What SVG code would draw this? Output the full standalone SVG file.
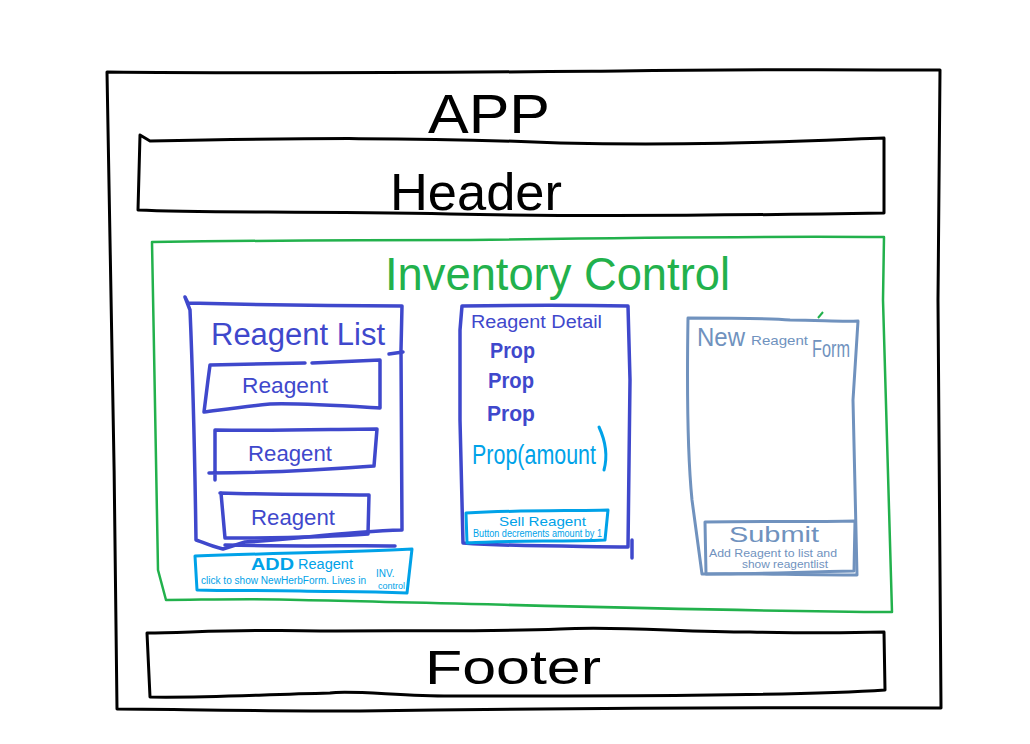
<svg xmlns="http://www.w3.org/2000/svg" width="1030" height="744" viewBox="0 0 1030 744">
<style>
.k{fill:none;stroke:#000;stroke-width:3;stroke-linejoin:round;stroke-linecap:round}
.g{fill:none;stroke:#22b14c;stroke-width:2.5;stroke-linejoin:round;stroke-linecap:round}
.b{fill:none;stroke:#3f48cc;stroke-width:3.5;stroke-linejoin:round;stroke-linecap:round}
.lb{fill:none;stroke:#00a2e8;stroke-width:3;stroke-linejoin:round;stroke-linecap:round}
.sb{fill:none;stroke:#7092be;stroke-width:3;stroke-linejoin:round;stroke-linecap:round}
text{font-family:"Liberation Sans","DejaVu Sans",sans-serif}
.tk{fill:#000}
.tg{fill:#22b14c}
.tb{fill:#3f48cc}
.tlb{fill:#00a2e8}
.tsb{fill:#7092be}
</style>
<rect width="1030" height="744" fill="#fff"/>
<g id="app">
<path class="k" d="M107,72 C300,74 500,72 620,71 C760,69 860,70 940,70 L938,300 L941,708 C700,707 500,709 360,711 C250,711 160,709 117,709 C115,500 111,250 107,72 Z"/>
<text class="tk" x="428" y="133" font-size="56" textLength="122" lengthAdjust="spacingAndGlyphs">APP</text>
</g>
<g id="header">
<path class="k" d="M140,135 L150,141 C300,138 420,137 560,143 C700,146 800,141 884,138 L884,213 C700,216 550,216 450,214 C300,211 200,213 138,210 Z"/>
<text class="tk" x="390" y="210" font-size="52" textLength="172" lengthAdjust="spacingAndGlyphs">Header</text>
</g>
<g id="inventory-control">
<path class="g" d="M152,242 C300,240 420,240 470,240 C600,238 750,236 884,237 L883,300 L892,612 C700,611 500,604 300,600 C250,598 200,600 166,600 L158,570 C156,450 154,350 152,242 Z"/>
<text class="tg" x="385" y="290" font-size="46" textLength="345" lengthAdjust="spacingAndGlyphs">Inventory Control</text>
</g>
<g id="reagent-list">
<path class="b" d="M185,297 L188,303 C260,305 320,306 402,306 L401,350 L402,530 C340,532 290,540 245,542 L223,549 C210,546 200,541 196,540 C195,470 193,380 190,310 Z"/>
<path class="b" d="M389,354 L403,352"/>
<text class="tb" x="211" y="345" font-size="31" textLength="174" lengthAdjust="spacingAndGlyphs">Reagent List</text>
</g>
<g id="reagent-1">
<path class="b" d="M210,365 L305,363 M312,363 L380,360 L380,408 C330,405 300,403 270,404 C240,407 220,410 204,412 L208,380 L210,365"/>
<text class="tb" x="242" y="393" font-size="22" textLength="86" lengthAdjust="spacingAndGlyphs">Reagent</text>
</g>
<g id="reagent-2">
<path class="b" d="M215,430 C280,431 340,429 377,429 L374,466 C320,470 260,473 209,473 M215,430 L215,480"/>
<text class="tb" x="248" y="461" font-size="22" textLength="84" lengthAdjust="spacingAndGlyphs">Reagent</text>
</g>
<g id="reagent-3">
<path class="b" d="M220,493 C280,495 330,494 369,495 L368,534 C330,537 280,538 225,538 L221,493 M225,545 C300,547 360,545 395,546"/>
<text class="tb" x="251" y="525" font-size="22" textLength="84" lengthAdjust="spacingAndGlyphs">Reagent</text>
</g>
<g id="add-reagent">
<path class="lb" d="M195,556 C280,553 350,552 412,549 L407,593 C360,591 330,592 300,591 C260,590 230,591 197,590 L195,556 Z"/>
<text class="tlb" x="251" y="570" font-size="16" font-weight="bold" textLength="43" lengthAdjust="spacingAndGlyphs">ADD</text>
<text class="tlb" x="298" y="569" font-size="14" textLength="55" lengthAdjust="spacingAndGlyphs">Reagent</text>
<text class="tlb" x="201" y="584" font-size="10" textLength="165" lengthAdjust="spacingAndGlyphs">click to show NewHerbForm. Lives in</text>
<text class="tlb" font-size="10"><tspan x="376" y="577">INV.</tspan><tspan x="378" y="589" font-size="9">control</tspan></text>
</g>
<g id="reagent-detail">
<path class="b" d="M462,306 C520,305 580,305 628,306 L630,380 L628,547 C580,546 520,547 463,543 L460,420 L460,330 Z"/>
<text class="tb" x="471" y="328" font-size="18" textLength="131" lengthAdjust="spacingAndGlyphs">Reagent Detail</text>
<text class="tb" x="490" y="358" font-size="22" font-weight="bold" textLength="45" lengthAdjust="spacingAndGlyphs">Prop</text>
<text class="tb" x="488" y="388" font-size="22" font-weight="bold" textLength="46" lengthAdjust="spacingAndGlyphs">Prop</text>
<text class="tb" x="487" y="421" font-size="22" font-weight="bold" textLength="48" lengthAdjust="spacingAndGlyphs">Prop</text>
<text class="tlb" x="472" y="464" font-size="27" textLength="124" lengthAdjust="spacingAndGlyphs">Prop(amount</text>
<path class="lb" d="M599,427 C605,440 608,455 604,470"/>
<path class="b" d="M632,540 L632,558"/>
</g>
<g id="sell-reagent">
<path class="lb" d="M466,513 C520,510 570,511 608,510 L605,540 C560,542 510,540 467,543 Z"/>
<text class="tlb" x="499" y="526" font-size="13" textLength="87" lengthAdjust="spacingAndGlyphs">Sell Reagent</text>
<text class="tlb" x="473" y="537" font-size="10" textLength="129" lengthAdjust="spacingAndGlyphs">Button decrements amount by 1</text>
</g>
<g id="new-reagent-form">
<path class="sb" d="M688,318 C740,318 770,318 790,320 C820,320 840,322 858,321 L853,400 L857,575 C800,575 740,573 702,574 L692,500 C687,450 687,380 688,318 Z"/>
<path d="M818,318 L823,312" stroke="#22b14c" stroke-width="2" fill="none"/>
<text class="tsb" x="697" y="346" font-size="26" textLength="48" lengthAdjust="spacingAndGlyphs">New</text>
<text class="tsb" x="751" y="345" font-size="13" textLength="57" lengthAdjust="spacingAndGlyphs">Reagent</text>
<text class="tsb" x="812" y="357" font-size="24" textLength="38" lengthAdjust="spacingAndGlyphs">Form</text>
</g>
<g id="submit">
<path class="sb" d="M705,522 C760,521 810,522 855,521 L854,571 C800,572 750,574 706,574 Z"/>
<text class="tsb" x="729" y="542" font-size="22" textLength="90" lengthAdjust="spacingAndGlyphs">Submit</text>
<text class="tsb" x="709" y="557" font-size="10" textLength="128" lengthAdjust="spacingAndGlyphs">Add Reagent to list and</text>
<text class="tsb" x="742" y="568" font-size="10" textLength="86" lengthAdjust="spacingAndGlyphs">show reagentlist</text>
</g>
<g id="footer">
<path class="k" d="M147,633 C200,632 260,629 320,631 C420,630 480,632 560,629 C620,626 680,632 750,632 C800,633 850,633 884,632 L885,690 C800,696 600,696 450,696 C400,696 350,690 330,693 C250,695 200,698 150,697 Z"/>
<text class="tk" x="425" y="684" font-size="48" textLength="176" lengthAdjust="spacingAndGlyphs">Footer</text>
</g>
</svg>
